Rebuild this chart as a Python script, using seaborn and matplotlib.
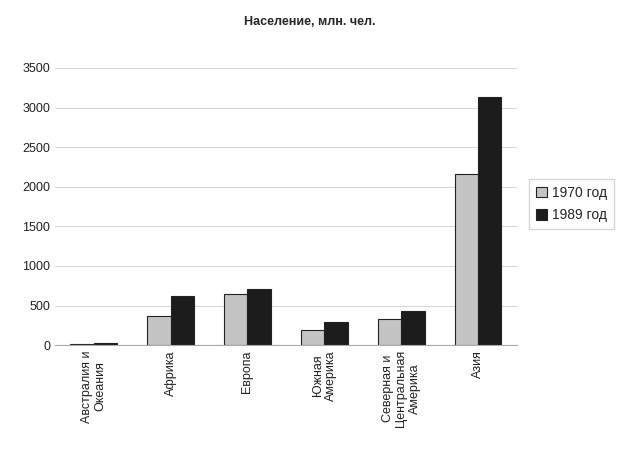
import pandas as pd
import numpy as np
import matplotlib.pyplot as plt
import seaborn as sns

regions = ['Австралия и\nОкеания', 'Африка', 'Европа', 'Южная\nАмерика',
           'Северная и\nЦентральная\nАмерика', 'Азия']
pop_1970 = [19, 365, 640, 195, 330, 2160]
pop_1989 = [26, 625, 710, 295, 430, 3130]
years = ['1970 год', '1989 год']

df = pd.DataFrame({
    'Регион': regions * 2,
    'Год': [years[0]] * len(regions) + [years[1]] * len(regions),
    'Население': pop_1970 + pop_1989,
})

sns.set_style('white')
plt.rcParams['font.family'] = ['Liberation Sans', 'DejaVu Sans']

fig = plt.figure(figsize=(6.19, 4.5), dpi=100)
ax = fig.add_axes([0.089, 0.233, 0.746, 0.616])

sns.barplot(data=df, x='Регион', y='Население', hue='Год',
            palette=['#c4c4c4', '#1c1c1c'], width=0.6,
            edgecolor='#222222', linewidth=0.8, ax=ax)

ax.set_ylim(0, 3500)
ax.set_yticks(np.arange(0, 3501, 500))
ax.yaxis.grid(True, color='#d8d8d8', linewidth=0.8)
ax.set_axisbelow(True)
for s in ['top', 'right', 'left']:
    ax.spines[s].set_visible(False)
ax.spines['bottom'].set_color('#aaaaaa')
ax.set_xlabel('')
ax.set_ylabel('')
ax.tick_params(axis='y', labelsize=9, colors='#222222', length=0)
ax.tick_params(axis='x', labelsize=9, colors='#222222', length=0)
plt.setp(ax.get_xticklabels(), rotation=90, ha='center', va='top', multialignment='center')

fig.suptitle('Население, млн. чел.', x=0.5, y=0.965, fontsize=9, fontweight='bold')

leg = ax.legend(loc='center left', bbox_to_anchor=(0.843, 0.547), bbox_transform=fig.transFigure,
                frameon=True, fontsize=10, handlelength=0.8, handleheight=0.8,
                handletextpad=0.4, borderpad=0.5, labelspacing=0.6, fancybox=False)
leg.get_frame().set_edgecolor('#cccccc')

fig.savefig('out.png', dpi=100)
